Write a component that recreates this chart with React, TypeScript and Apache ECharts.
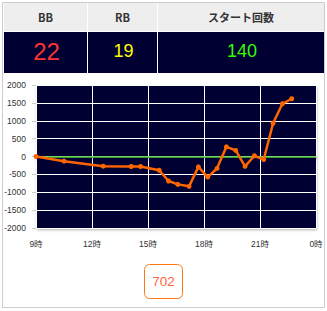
import React, { useEffect, useRef } from "react";
import * as echarts from "echarts";

const headers = ["BB", "RB", "スタート回数"];
const counts = ["22", "19", "140"];
const countColors = ["#ff3333", "#ffff00", "#33ff00"];
const hours = [9.0, 10.5, 12.6, 14.1, 14.6, 15.6, 16.1, 16.6, 17.2, 17.7, 18.2, 18.7, 19.2, 19.7, 20.2, 20.7, 21.2, 21.7, 22.2, 22.7];
const values = [0, -130, -270, -280, -280, -385, -685, -780, -835, -290, -575, -330, 270, 170, -275, 20, -85, 930, 1475, 1615];
const totalLabel = "702";

export default function App() {
  const ref = useRef<HTMLDivElement>(null);
  useEffect(() => {
    const chart = echarts.init(ref.current!, null, { renderer: "svg" });
    const colX = [[4, 87], [88, 157], [158, 324]];
    const graphic: any[] = [
      { type: "rect", shape: { x: 2.5, y: 2.5, width: 322, height: 305 }, style: { fill: "#fff", stroke: "#cccccc", lineWidth: 1 }, z: -10 },
    ];
    colX.forEach(([a, b], i) => {
      graphic.push({ type: "rect", shape: { x: a, y: 3, width: b - a, height: 28 }, style: { fill: "#eeeeee" }, z: -5 });
      graphic.push({ type: "rect", shape: { x: a, y: 32, width: b - a, height: 41 }, style: { fill: "#000033" }, z: -5 });
      graphic.push({
        type: "text", x: (a + b) / 2, y: 17,
        style: { text: headers[i], fill: "#333", font: "bold 11px 'Noto Sans CJK JP', sans-serif", align: "center", verticalAlign: "middle" },
      });
      graphic.push({
        type: "text", x: (a + b) / 2 + 1, y: 51,
        style: { text: counts[i], fill: countColors[i], font: (i === 0 ? "24px" : "18px") + " 'Liberation Sans', sans-serif", align: "center", verticalAlign: "middle" },
      });
    });
    graphic.push({ type: "rect", shape: { x: 144.5, y: 264.5, width: 38, height: 34, r: 5 }, style: { fill: "#fff", stroke: "#ff7711", lineWidth: 1 } });
    graphic.push({ type: "text", x: 163.5, y: 281.5, style: { text: totalLabel, fill: "#ff6644", font: "13.5px 'Liberation Sans', sans-serif", align: "center", verticalAlign: "middle" } });

    chart.setOption({
      animation: false,
      graphic,
      grid: {
        left: 36, right: 11, top: 85, bottom: 83, show: true, backgroundColor: "#000033", borderWidth: 0,
        shadowColor: "rgba(0,0,0,0.3)", shadowBlur: 3, shadowOffsetX: 1, shadowOffsetY: 2,
      },
      xAxis: {
        type: "value", min: 9, max: 24, interval: 3,
        axisLine: { show: true, lineStyle: { color: "#dddddd" } },
        axisTick: { show: true, length: 4, lineStyle: { color: "#cccccc" } },
        splitLine: { show: true, lineStyle: { color: "#ffffff", width: 1 } },
        axisLabel: { color: "#333", fontSize: 8.5, fontFamily: "'Liberation Sans', 'Noto Sans CJK JP', sans-serif", margin: 12, formatter: (v: number) => (v % 24) + "時" },
      },
      yAxis: {
        type: "value", min: -2000, max: 2000, interval: 500,
        axisLine: { show: false },
        axisTick: { show: true, length: 4, lineStyle: { color: "#cccccc" } },
        splitLine: { show: true, lineStyle: { color: "#ffffff", width: 1 } },
        axisLabel: { color: "#333", fontSize: 8.5, fontFamily: "'Liberation Sans', sans-serif", margin: 10, formatter: (v: number) => String(v) },
      },
      series: [{
        type: "line",
        data: hours.map((h, i) => [h, values[i]]),
        lineStyle: { color: "#ff6600", width: 2.5 },
        itemStyle: { color: "#ff6600" },
        symbol: "circle", symbolSize: 5, showSymbol: true,
        markLine: {
          silent: true, symbol: "none", label: { show: false },
          lineStyle: { color: "#55cc33", width: 1.5, type: "solid" },
          data: [{ yAxis: 0 }],
          z: 1,
        },
        z: 3,
      }],
    });
    return () => chart.dispose();
  }, []);
  return <div ref={ref} style={{ position: "absolute", left: 0, top: 0, width: 327, height: 311 }} />;
}
